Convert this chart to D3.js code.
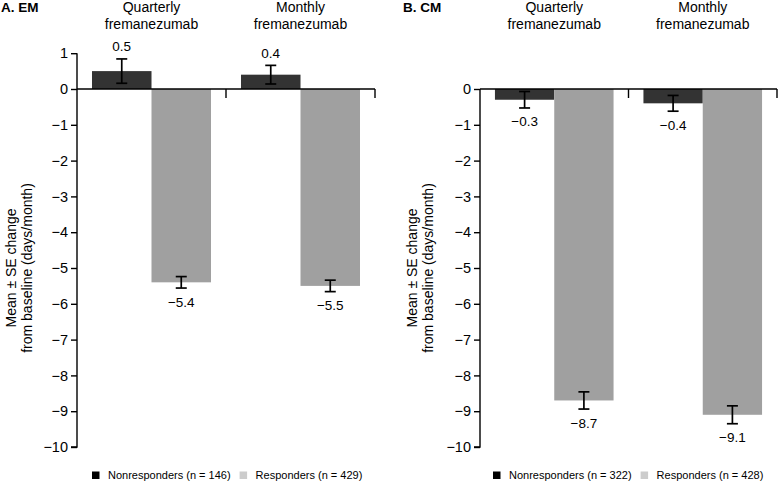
<!DOCTYPE html>
<html><head><meta charset="utf-8">
<script src="https://cdn.jsdelivr.net/npm/d3@7"></script>
<style>
html,body{margin:0;padding:0;background:#fff;}
svg{display:block;font-family:"Liberation Sans",Arial,Helvetica,sans-serif;}
</style></head>
<body><svg id="chart" width="778" height="483"></svg>
<script>
// ---- data ----
const groups = ["Quarterly", "Monthly"];
const groupLabels = [["Quarterly", "fremanezumab"], ["Monthly", "fremanezumab"]];
const seriesNames = ["Nonresponders", "Responders"];
const yTicksEM = [1, 0, -1, -2, -3, -4, -5, -6, -7, -8, -9, -10];
const yTicksCM = [0, -1, -2, -3, -4, -5, -6, -7, -8, -9, -10];

const emNonMean = [0.5, 0.4];
const emNonSE = [0.34, 0.26];
const emRespMean = [-5.4, -5.5];
const emRespSE = [0.16, 0.16];
const emN = [146, 429];

const cmNonMean = [-0.3, -0.4];
const cmNonSE = [0.23, 0.22];
const cmRespMean = [-8.7, -9.1];
const cmRespSE = [0.24, 0.25];
const cmN = [322, 428];

const barColors = ["#333333", "#a0a0a0"];
const legendColors = ["#000000", "#cccccc"];

const svg = d3.select("#chart");
const fmt = v => (v < 0 ? "\u2212" : "") + Math.abs(v).toFixed(1);

function panel(opt) {
  const g = svg.append("g");
  const y = d3.scaleLinear().domain([-10, opt.yMax]).range([447, 89 - opt.yMax * 35.8]);
  const x = d3.scaleBand().domain(groups).range([opt.x0, opt.x1]);
  const inner = d3.scaleBand().domain(seriesNames).range([0, x.bandwidth()])
    .paddingInner(0).paddingOuter(0.252);

  const rows = [];
  groups.forEach((grp, i) => {
    rows.push({grp, s: seriesNames[0], m: opt.non[i], se: opt.nonSE[i], c: barColors[0]});
    rows.push({grp, s: seriesNames[1], m: opt.resp[i], se: opt.respSE[i], c: barColors[1]});
  });

  // bars
  g.selectAll("rect.bar").data(rows).join("rect").attr("class", "bar")
    .attr("x", d => x(d.grp) + inner(d.s))
    .attr("width", inner.bandwidth())
    .attr("y", d => y(Math.max(0, d.m)))
    .attr("height", d => Math.abs(y(d.m) - y(0)))
    .attr("fill", d => d.c);

  // error bars
  const eb = g.selectAll("g.eb").data(rows).join("g").attr("class", "eb")
    .attr("stroke", "#000").attr("stroke-width", 1.7).attr("fill", "none");
  const cx = d => x(d.grp) + inner(d.s) + inner.bandwidth() / 2;
  eb.append("line").attr("x1", cx).attr("x2", cx)
    .attr("y1", d => y(d.m + d.se)).attr("y2", d => y(d.m - d.se));
  eb.append("line").attr("x1", d => cx(d) - 5.5).attr("x2", d => cx(d) + 5.5)
    .attr("y1", d => y(d.m + d.se)).attr("y2", d => y(d.m + d.se));
  eb.append("line").attr("x1", d => cx(d) - 5.5).attr("x2", d => cx(d) + 5.5)
    .attr("y1", d => y(d.m - d.se)).attr("y2", d => y(d.m - d.se));

  // value labels
  g.selectAll("text.val").data(rows).join("text").attr("class", "val")
    .attr("x", cx)
    .attr("y", d => d.m >= 0 ? y(d.m + d.se) - 7.5 : y(d.m - d.se) + 18.5)
    .attr("text-anchor", "middle").attr("font-size", 13.5).attr("fill", "#000")
    .text(d => fmt(d.m));

  // y axis
  const yAxis = d3.axisLeft(y).tickValues(opt.ticks).tickSize(6).tickPadding(3)
    .tickFormat(v => v < 0 ? "\u2212" + Math.abs(v) : String(v));
  const ya = g.append("g").attr("transform", `translate(${opt.x0},0)`).call(yAxis);
  ya.select(".domain").attr("d", `M0,${y(opt.yMax)}V${y(-10)}H-6`).attr("stroke-width", 1.4);
  ya.selectAll(".tick line").attr("stroke-width", 1.4);
  ya.selectAll(".tick text").attr("font-size", 14.5).attr("font-family", "Liberation Sans, Arial, sans-serif").attr("fill", "#000");

  // zero baseline with group ticks
  g.append("line").attr("x1", opt.x0).attr("x2", opt.x1).attr("y1", y(0)).attr("y2", y(0))
    .attr("stroke", "#000").attr("stroke-width", 1.4);
  groups.forEach(grp => {
    const gx = x(grp) + x.bandwidth();
    g.append("line").attr("x1", gx).attr("x2", gx).attr("y1", y(0)).attr("y2", y(0) + 9)
      .attr("stroke", "#000").attr("stroke-width", 1.4);
  });

  // group labels
  groups.forEach((grp, i) => {
    const t = g.append("text").attr("text-anchor", "middle").attr("font-size", 14).attr("fill", "#000");
    groupLabels[i].forEach((line, j) => {
      t.append("tspan").attr("x", x(grp) + x.bandwidth() / 2).attr("y", 12 + j * 16.5).text(line);
    });
  });

  // panel title
  g.append("text").attr("x", opt.titleX).attr("y", 12).attr("font-size", 13.5)
    .attr("font-weight", "bold").attr("fill", "#000").text(opt.title);

  // y axis title
  const yt = g.append("text").attr("text-anchor", "middle").attr("font-size", 14).attr("fill", "#000")
    .attr("transform", `translate(${opt.ylabX},268) rotate(-90)`);
  yt.append("tspan").attr("x", 0).attr("y", 0).text("Mean \u00b1 SE change");
  yt.append("tspan").attr("x", 0).attr("y", 15.5).text("from baseline (days/month)");

  // legend
  const lg = g.append("g").attr("transform", `translate(${opt.legX},479)`);
  let lx = 0;
  seriesNames.forEach((s, i) => {
    lg.append("rect").attr("x", lx).attr("y", -7.5).attr("width", 7.5).attr("height", 7.5).attr("fill", legendColors[i]);
    const t = lg.append("text").attr("x", lx + 16).attr("y", 0).attr("font-size", 11).attr("fill", "#000")
      .text(`${s} (n = ${opt.n[i]})`);
    lx += 16 + t.node().getComputedTextLength() + 9;
  });
}

panel({x0: 77, x1: 375, yMax: 1, ticks: yTicksEM, non: emNonMean, nonSE: emNonSE,
  resp: emRespMean, respSE: emRespSE, n: emN, title: "A. EM", titleX: 1, ylabX: 16, legX: 92});
panel({x0: 480, x1: 777, yMax: 0, ticks: yTicksCM, non: cmNonMean, nonSE: cmNonSE,
  resp: cmRespMean, respSE: cmRespSE, n: cmN, title: "B. CM", titleX: 403, ylabX: 417, legX: 493});
</script></body></html>
